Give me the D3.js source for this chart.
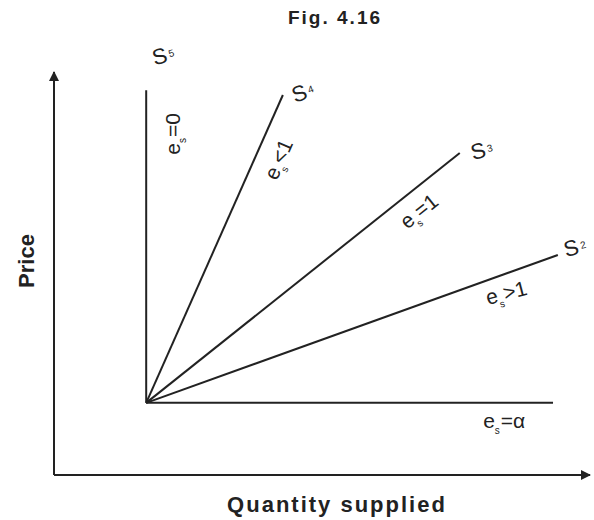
<!DOCTYPE html>
<html>
<head>
<meta charset="utf-8">
<script src="https://cdn.jsdelivr.net/npm/d3@7"></script>
<style>
  body { margin: 0; background: #fff; }
  text { font-family: "Liberation Sans", Arial, sans-serif; fill: #222; }
</style>
</head>
<body>
<div id="chart"></div>
<script>
// supply curves, all starting from the same point
let curves = ["S5", "S4", "S3", "S2", "S1"];
let elasticity = ["=0", "<1", "=1", ">1", "=α"];
let origin = [17.2, 17.9];
let endQty = [17.2, 42.7, 75.7, 94.0, 93.1];
let endPrice = [95.5, 94.3, 79.9, 54.6, 17.9];

let width = 594;
let height = 520;

let svg = d3.select("#chart")
    .append("svg")
    .attr("width", width)
    .attr("height", height);

// scales (0..100 on both axes)
let x = d3.scaleLinear().domain([0, 100]).range([54, 590]);
let y = d3.scaleLinear().domain([0, 100]).range([475, 72]);

let ink = "#222";

// arrow marker
svg.append("defs").append("marker")
    .attr("id", "arrow")
    .attr("viewBox", "0 0 10 10")
    .attr("refX", 9)
    .attr("refY", 5)
    .attr("markerWidth", 5)
    .attr("markerHeight", 5)
    .attr("orient", "auto")
    .append("path")
    .attr("d", "M0,0 L10,5 L0,10 z")
    .attr("fill", ink);

// axes
svg.append("path")
    .attr("d", d3.line()([[x(0), y(0)], [x(0), y(100)]]))
    .attr("stroke", ink)
    .attr("stroke-width", 2)
    .attr("marker-end", "url(#arrow)");

svg.append("path")
    .attr("d", d3.line()([[x(0), y(0)], [x(100), y(0)]]))
    .attr("stroke", ink)
    .attr("stroke-width", 2)
    .attr("marker-end", "url(#arrow)");

// supply lines
let data = curves.map((c, i) => ({
    name: c,
    e: elasticity[i],
    q: endQty[i],
    p: endPrice[i]
}));

svg.selectAll(".supply")
    .data(data)
    .enter()
    .append("line")
    .attr("class", "supply")
    .attr("x1", x(origin[0]))
    .attr("y1", y(origin[1]))
    .attr("x2", d => x(d.q))
    .attr("y2", d => y(d.p))
    .attr("stroke", ink)
    .attr("stroke-width", 2);

// curve names near the ends (pixel offsets from the end point)
let nameOffset = [[17, -35, -15], [20, -3, -20], [22, -3, -15], [17, -8, -15], [0, 0, 0]];

let names = svg.selectAll(".name")
    .data(data.filter(d => d.name != "S1"))
    .enter()
    .append("text")
    .attr("class", "name")
    .attr("transform", (d, i) => "translate(" + (x(d.q) + nameOffset[i][0]) + "," + (y(d.p) + nameOffset[i][1]) + ") rotate(" + nameOffset[i][2] + ")")
    .attr("text-anchor", "middle")
    .attr("dy", "0.35em")
    .style("font-size", "22px");

names.append("tspan").text("S");
names.append("tspan")
    .attr("dy", -4)
    .attr("dx", 2)
    .style("font-size", "10px")
    .text(d => d.name.slice(1));

// elasticity labels: placed along each line, with a perpendicular offset
let labelAt = [0.86, 0.82, 0.83, 0.86, 0.88];
let labelShift = [26, 22, 20, 18, 18];

let labels = svg.selectAll(".elast")
    .data(data)
    .enter()
    .append("text")
    .attr("class", "elast")
    .attr("transform", (d, i) => {
        let x0 = x(origin[0]), y0 = y(origin[1]);
        let dx = x(d.q) - x0, dy = y(d.p) - y0;
        let len = Math.sqrt(dx * dx + dy * dy);
        let ang = Math.atan2(dy, dx) * 180 / Math.PI;
        if (i == 3) ang += 5;
        let px = x0 + dx * labelAt[i] - dy / len * labelShift[i];
        let py = y0 + dy * labelAt[i] + dx / len * labelShift[i];
        return "translate(" + px + "," + py + ") rotate(" + ang + ")";
    })
    .attr("text-anchor", "middle")
    .attr("dy", "0.35em")
    .style("font-size", "21px");

labels.append("tspan").text("e");
labels.append("tspan")
    .attr("dy", 6)
    .style("font-size", "10px")
    .text("s");
labels.append("tspan")
    .attr("dy", -6)
    .attr("dx", 1)
    .text(d => d.e);

// titles
svg.append("text")
    .attr("x", 335)
    .attr("y", 24)
    .attr("text-anchor", "middle")
    .style("font-size", "19px")
    .style("font-weight", "bold")
    .style("letter-spacing", "2px")
    .text("Fig. 4.16");

svg.append("text")
    .attr("x", 337)
    .attr("y", 512)
    .attr("text-anchor", "middle")
    .style("font-size", "22px")
    .style("font-weight", "bold")
    .style("letter-spacing", "2px")
    .text("Quantity supplied");

svg.append("text")
    .attr("transform", "translate(34,261) rotate(-90)")
    .attr("text-anchor", "middle")
    .style("font-size", "22px")
    .style("font-weight", "bold")
    .text("Price");
</script>
</body>
</html>
